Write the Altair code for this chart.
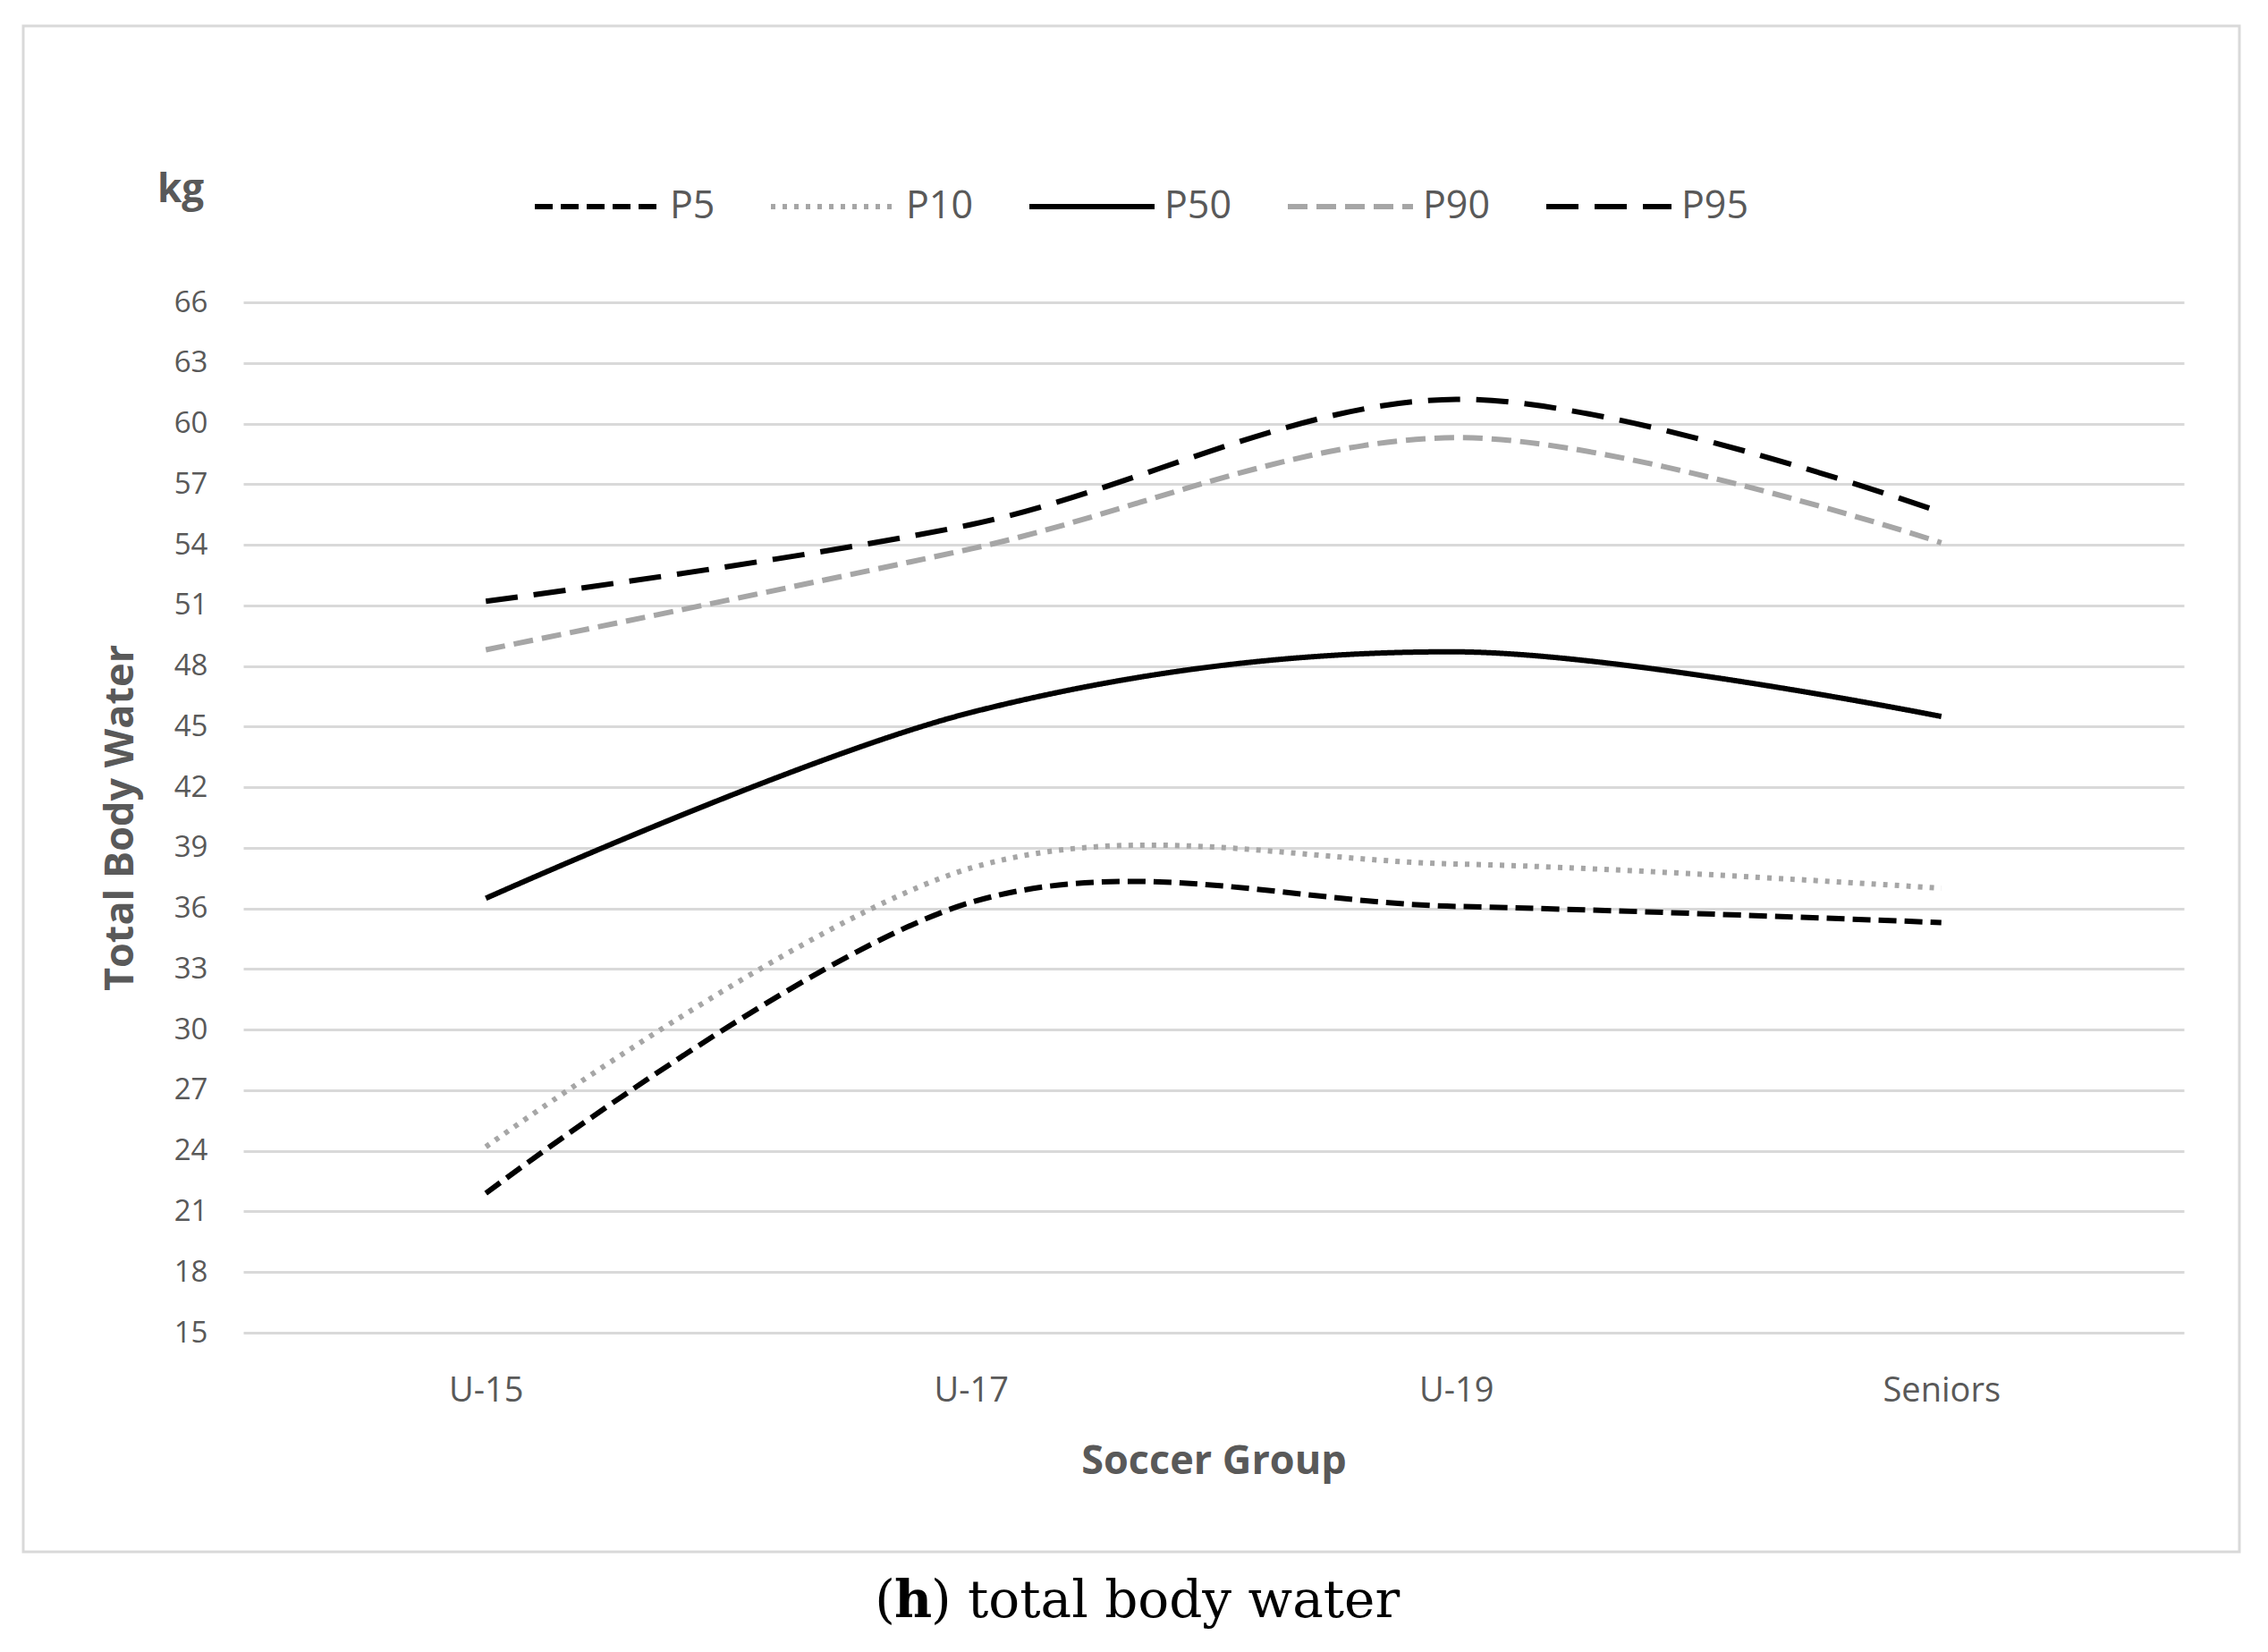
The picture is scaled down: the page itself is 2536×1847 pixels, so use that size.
import altair as alt
import pandas as pd

# ---- data ----
groups = ["U-15", "U-17", "U-19", "Seniors"]
series_names = ["P5", "P10", "P50", "P90", "P95"]
p5 = [21.9, 36.3, 36.1, 35.3]
p10 = [24.2, 38.0, 38.2, 37.0]
p50 = [36.5, 45.7, 48.7, 45.5]
p90 = [48.8, 53.8, 59.3, 54.1]
p95 = [51.2, 55.0, 61.2, 55.6]
y_ticks = list(range(15, 67, 3))

series_values = {"P5": p5, "P10": p10, "P50": p50, "P90": p90, "P95": p95}
rows = []
for s in series_names:
    for g, v in zip(groups, series_values[s]):
        rows.append({"group": g, "series": s, "value": v})
df = pd.DataFrame(rows)

colors = ["#000000", "#a6a6a6", "#000000", "#a6a6a6", "#000000"]
dashes = [[20, 9], [5, 8], [1, 0], [22, 10], [36, 18]]

TEXT = "#595959"
SANS = "Open Sans"
W, H = 2170, 1152

lines = alt.Chart(df).mark_line(interpolate="cardinal", strokeWidth=6).encode(
    x=alt.X(
        "group:N",
        sort=groups,
        scale=alt.Scale(domain=groups, padding=0.5),
        axis=alt.Axis(
            grid=False, domain=False, ticks=False, labelAngle=0,
            labelPadding=46, labelFontSize=38, labelColor=TEXT, labelFont=SANS,
            title="Soccer Group", titleFont=SANS, titleFontSize=45,
            titleFontWeight="bold", titleColor=TEXT, titleY=143,
            titleBaseline="middle",
        ),
    ),
    y=alt.Y(
        "value:Q",
        scale=alt.Scale(domain=[15, 66], nice=False, zero=False),
        axis=alt.Axis(
            values=y_ticks, grid=True, gridColor="#d9d9d9", gridWidth=3,
            domain=False, ticks=False, labelPadding=40, labelFontSize=33,
            labelColor=TEXT, labelFont=SANS,
            title="Total Body Water", titleFont=SANS, titleFontSize=45,
            titleFontWeight="bold", titleColor=TEXT, titleX=-138, titleY=H / 2,
            titleAngle=270, titleAlign="center", titleBaseline="middle",
        ),
    ),
    color=alt.Color(
        "series:N", sort=series_names,
        scale=alt.Scale(domain=series_names, range=colors),
        legend=alt.Legend(title=None),
    ),
    strokeDash=alt.StrokeDash(
        "series:N", sort=series_names,
        scale=alt.Scale(domain=series_names, range=dashes),
        legend=alt.Legend(title=None),
    ),
    order=alt.Order("series:N"),
)

one = pd.DataFrame({"k": [0]})

border = alt.Chart(one).mark_rect(
    fillOpacity=0, stroke="#d9d9d9", strokeWidth=3
).encode(
    x=alt.value(26 - 272), x2=alt.value(2504 - 272),
    y=alt.value(29 - 338), y2=alt.value(1735 - 338),
)

kg = alt.Chart(one).mark_text(
    text="kg", font=SANS, fontSize=44, fontWeight="bold", color=TEXT,
    baseline="middle", align="center",
).encode(x=alt.value(-70), y=alt.value(-125))

HX = 749
HW = 20
CAP_Y = 1470
cap_font = "DejaVu Serif"
cap_size = 58
cap1 = alt.Chart(one).mark_text(
    text="(", font=cap_font, fontSize=cap_size, color="#000000",
    align="right", baseline="alphabetic",
).encode(x=alt.value(HX - HW), y=alt.value(CAP_Y))
cap2 = alt.Chart(one).mark_text(
    text="h", font=cap_font, fontSize=cap_size, fontWeight="bold", color="#000000",
    align="center", baseline="alphabetic",
).encode(x=alt.value(HX), y=alt.value(CAP_Y))
cap3 = alt.Chart(one).mark_text(
    text=") total body water", font=cap_font, fontSize=cap_size, color="#000000",
    align="left", baseline="alphabetic",
).encode(x=alt.value(HX + HW), y=alt.value(CAP_Y))

chart = alt.layer(border, lines, kg, cap1, cap2, cap3).properties(
    width=W, height=H,
    autosize=alt.AutoSizeParams(type="none"),
    padding={"left": 264, "top": 330, "right": 86, "bottom": 340},
).configure_view(strokeWidth=0).configure_legend(
    orient="none", legendX=323, legendY=-180, direction="horizontal",
    symbolType="stroke", symbolSize=19600, symbolStrokeWidth=6,
    labelFont=SANS, labelFontSize=43, labelColor=TEXT, labelOffset=8,
    columnPadding=50, padding=0, labelLimit=300,
)

chart.save("out.html", embed_options={"renderer": "svg", "actions": False})
